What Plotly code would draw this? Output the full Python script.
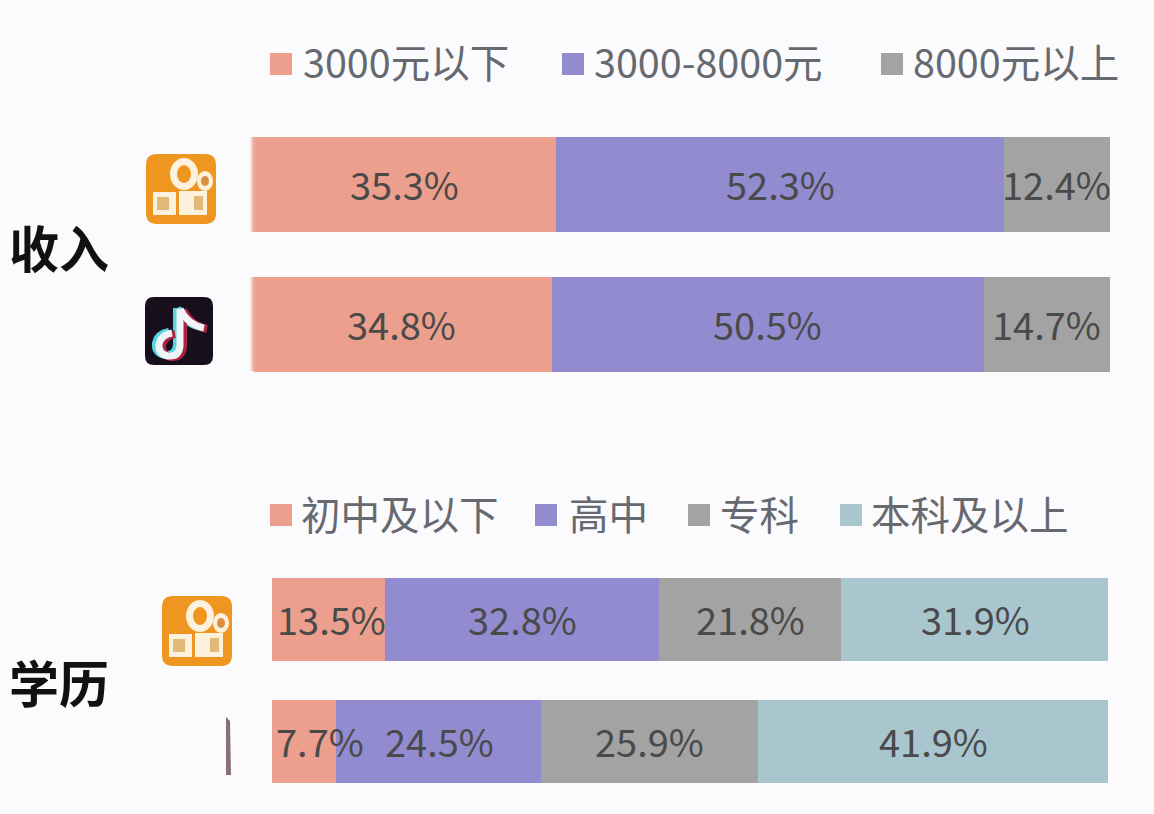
import plotly.graph_objects as go

# ---- data ----
income_legend = ["3000元以下", "3000-8000元", "8000元以上"]
income_kuaishou = [35.3, 52.3, 12.4]
income_douyin = [34.8, 50.5, 14.7]
edu_legend = ["初中及以下", "高中", "专科", "本科及以上"]
edu_kuaishou = [13.5, 32.8, 21.8, 31.9]
edu_douyin = [7.7, 24.5, 25.9, 41.9]
row_titles = ["收入", "学历"]
apps = ["快手", "抖音"]
colors = ["#ec9f8d", "#938bcf", "#a3a3a3", "#a9c6cf"]

W, H = 1154, 814
FONT = "Noto Sans CJK SC"
TXT = "#4a4a4a"
LEG = "#666a70"
BG = "#fbfbfd"

def px(x): return x / W
def py(y): return 1 - y / H

fig = go.Figure()

def add_group(names, v_k, v_d, xa, ya):
    for i, name in enumerate(names):
        fig.add_trace(go.Bar(
            y=apps, x=[v_k[i], v_d[i]], name=name, orientation="h",
            marker=dict(color=colors[i], line=dict(width=0)),
            xaxis=xa, yaxis=ya, showlegend=False, hoverinfo="x+y"))

add_group(income_legend, income_kuaishou, income_douyin, "x", "y")
add_group(edu_legend, edu_kuaishou, edu_douyin, "x2", "y2")

annotations = []
shapes = []

def value_labels(vals, app, xa, ya, shifts):
    c = 0
    for v, s in zip(vals, shifts):
        annotations.append(dict(x=c + v / 2, y=app, xref=xa, yref=ya, text=f"{v}%",
                                showarrow=False, xshift=s, yshift=1, xanchor="center",
                                font=dict(family=FONT, size=38, color=TXT)))
        c += v

value_labels(income_kuaishou, apps[0], "x", "y", [-1, 0, 0])
value_labels(income_douyin, apps[1], "x", "y", [-1, -1, -1])
value_labels(edu_kuaishou, apps[0], "x2", "y2", [3, 1, 0, 1])
value_labels(edu_douyin, apps[1], "x2", "y2", [16, 1, 0, 1])

def legend(names, sw_x, tx_x, y):
    for i, name in enumerate(names):
        shapes.append(dict(type="rect", xref="paper", yref="paper", line_width=0,
                           fillcolor=colors[i], x0=px(sw_x[i]), x1=px(sw_x[i] + 22),
                           y0=py(y + 11), y1=py(y - 11)))
        annotations.append(dict(x=px(tx_x[i]), y=py(y), xref="paper", yref="paper",
                                text=name, showarrow=False, xanchor="left", yanchor="middle",
                                xshift=-2, yshift=3, font=dict(family=FONT, size=39.5, color=LEG)))

legend(income_legend, [270, 562, 881], [303, 594, 913], 64)
legend(edu_legend, [270, 535, 688, 840], [301, 569, 720, 871], 515)

for t, y in zip(row_titles, [250, 685]):
    annotations.append(dict(x=px(59), y=py(y), xref="paper", yref="paper", text=f"<b>{t}</b>",
                            showarrow=False, xanchor="center", yanchor="middle", yshift=4,
                            font=dict(family=FONT, size=50, color="#111111")))

# soft left edge of the income bars
for y0, y1 in [(137, 232), (277, 371)]:
    for k, op in enumerate([0.2, 0.4, 0.65, 0.85]):
        shapes.append(dict(type="rect", xref="paper", yref="paper", line_width=0, fillcolor=colors[0],
                           opacity=op, x0=px(250 + k), x1=px(251 + k), y0=py(y1), y1=py(y0)))
    for k, op in enumerate([0.1, 0.05]):
        shapes.append(dict(type="rect", xref="paper", yref="paper", line_width=0, fillcolor=BG,
                           opacity=op, x0=px(254 + k), x1=px(255 + k), y0=py(y1), y1=py(y0)))

# app icons
def abs_path(d): return dict(type="path", xref="paper", yref="paper", path=d, line_width=0)

def rounded(x0, y0, s, r):
    x1, y1 = x0 + s, y0 + s
    return (f"M{px(x0+r)},{py(y0)} L{px(x1-r)},{py(y0)} Q{px(x1)},{py(y0)} {px(x1)},{py(y0+r)} "
            f"L{px(x1)},{py(y1-r)} Q{px(x1)},{py(y1)} {px(x1-r)},{py(y1)} L{px(x0+r)},{py(y1)} "
            f"Q{px(x0)},{py(y1)} {px(x0)},{py(y1-r)} L{px(x0)},{py(y0+r)} Q{px(x0)},{py(y0)} {px(x0+r)},{py(y0)} Z")

def circle(cx, cy, rx, ry, fill):
    return dict(type="circle", xref="paper", yref="paper", line_width=0, fillcolor=fill,
                x0=px(cx - rx), x1=px(cx + rx), y0=py(cy + ry), y1=py(cy - ry))

def box(x0, y0, x1, y1, fill):
    return dict(type="rect", xref="paper", yref="paper", line_width=0, fillcolor=fill,
                x0=px(x0), x1=px(x1), y0=py(y1), y1=py(y0))

def kuaishou(x, y):
    o = "#ee961f"; c = "#fbf1dc"; b = "#e2b878"
    out = [dict(abs_path(rounded(x, y, 70, 11)), fillcolor=o)]
    out += [circle(x + 38, y + 20, 14, 16, c), circle(x + 38, y + 20, 7, 9, o),
            circle(x + 59, y + 27, 8, 10, c), circle(x + 59, y + 27, 4, 5, "#d99040"),
            box(x + 7, y + 38, x + 30, y + 61, c), box(x + 11, y + 43, x + 23, y + 56, b),
            box(x + 33, y + 37, x + 61, y + 61, c), box(x + 48, y + 42, x + 57, y + 56, b)]
    return out

shapes += kuaishou(146, 154)
shapes += kuaishou(162, 596)

# TikTok-style icon
shapes.append(dict(abs_path(rounded(145, 297, 68, 9)), fillcolor="#17101c"))
def note(dx, dy, color, w):
    X = lambda a: px(a + dx)
    Y = lambda b: py(b + dy)
    d = (f"M{X(180)},{Y(308)} L{X(180)},{Y(345)} Q{X(179)},{Y(356)} {X(168)},{Y(355)} "
         f"Q{X(158)},{Y(353)} {X(159)},{Y(343)} Q{X(161)},{Y(334)} {X(172)},{Y(332)}")
    hook = f"M{X(180)},{Y(308)} Q{X(188)},{Y(324)} {X(204)},{Y(327)}"
    return [dict(type="path", xref="paper", yref="paper", path=d, line=dict(color=color, width=w), layer="above"),
            dict(type="path", xref="paper", yref="paper", path=hook, line=dict(color=color, width=w), layer="above")]
shapes += note(-3, 0, "#57d5e0", 8)
shapes += note(3, 2, "#b0203f", 8)
shapes += note(0, 1, "#eef4f7", 7)

# sliver left of the lower douyin row
shapes.append(dict(type="path", xref="paper", yref="paper",
                   path=f"M{px(226)},{py(717)} L{px(230)},{py(721)} L{px(231)},{py(775)} L{px(226)},{py(775)} Z",
                   fillcolor="#8a6f78", line_width=0))

fig.update_layout(
    width=W, height=H, margin=dict(l=0, r=0, t=0, b=0), barmode="stack", bargap=0.32,
    paper_bgcolor=BG, plot_bgcolor="rgba(0,0,0,0)", showlegend=False,
    annotations=annotations, shapes=shapes,
    xaxis=dict(domain=[px(254), px(1110)], range=[0, 100], visible=False),
    xaxis2=dict(domain=[px(272), px(1108)], range=[0, 100], visible=False, anchor="y2"),
    yaxis=dict(domain=[py(394.5), py(114.5)], visible=False, autorange="reversed", type="category"),
    yaxis2=dict(domain=[py(803), py(558)], visible=False, autorange="reversed", type="category", anchor="x2"),
)
fig.write_html("out.html", config={"displayModeBar": False},
               post_script=f"document.body.style.margin='0';document.body.style.overflow='hidden';document.body.style.background='{BG}';")
